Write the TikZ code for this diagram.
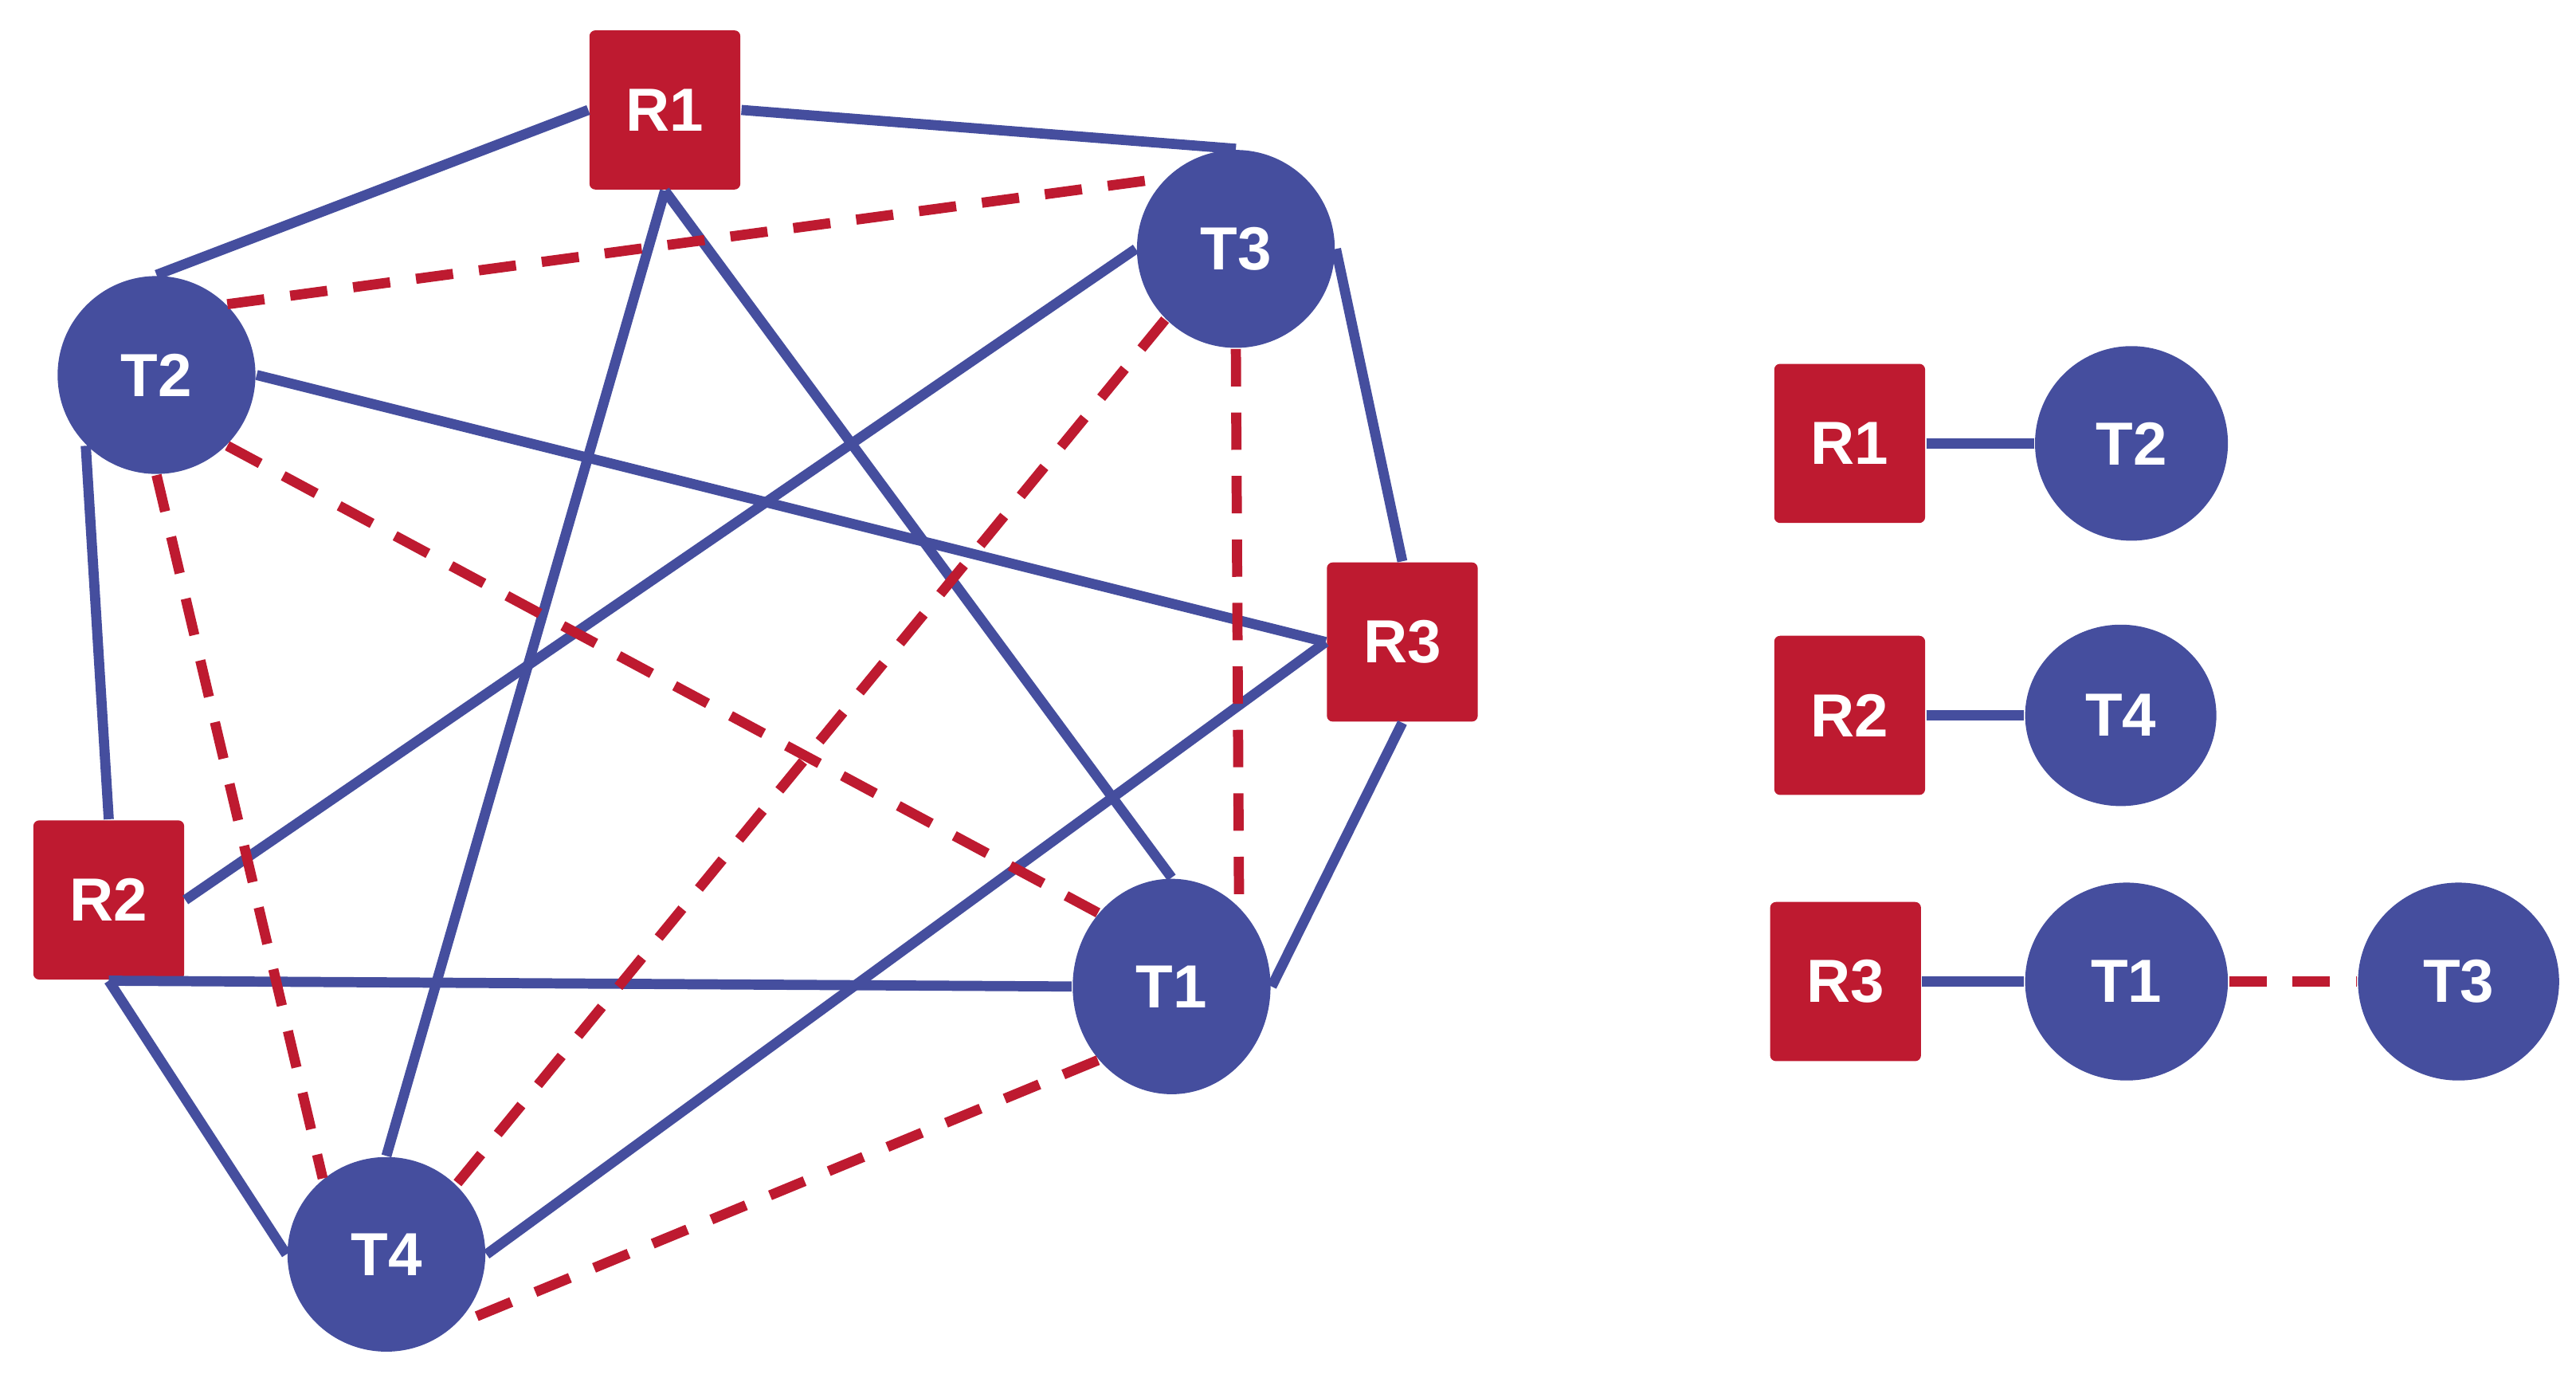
\documentclass[tikz,border=0pt]{standalone}
\usepackage{fontspec}
\setmainfont{Liberation Sans}
\usepackage{tikz}
\usetikzlibrary{shapes.geometric}
\definecolor{rred}{RGB}{190,26,48}
\definecolor{tblue}{RGB}{69,78,158}

\begin{document}
\begin{tikzpicture}[x = .01cm, y = -.01cm,
    rnode/.style = {rectangle, fill=rred, rounded corners=1pt, inner sep=0pt,
      minimum width=.915cm, minimum height=.965cm, text=white,
      font=\fontsize{10.5}{12}\selectfont\bfseries},
    tnode/.style = {ellipse, fill=tblue, inner sep=0pt,
      minimum width=1.2cm, minimum height=1.2cm, text=white,
      font=\fontsize{10.5}{12}\selectfont\bfseries},
    blueline/.style = {tblue, line width=1.75pt},
    redline/.style = {rred, line width=1.75pt, dash pattern=on 6.45pt off 4.5pt}]
        \useasboundingbox (0,0) rectangle (1563.3,835.6);
        % all links
        \node[rnode] (R1) at (403.5,66.7) {R1};
        \node[tnode] (T3) at (750,151) {T3};
        \node[tnode] (T2) at (95,227.5) {T2};
        \node[rnode] (R3) at (851,389.5) {R3};
        \node[rnode] (R2) at (66,546) {R2};
        \node[tnode, minimum height=1.306cm] (T1) at (711,598.5) {T1};
        \node[tnode, minimum height=1.18cm] (T4) at (234.5,761) {T4};
        \draw[blueline] (R1.west) -- (T2.north);
        \draw[blueline] (R1.east) -- (T3.north);
        \draw[blueline] (R1.south) -- (T4.north);
        \draw[blueline] (R1.south) -- (T1.north);
        \draw[blueline] (T2.east) -- (R3.west);
        \draw[blueline] (T2.225) -- (R2.north);
        \draw[blueline] (T3.west) -- (R2.east);
        \draw[blueline] (T3.east) -- (R3.north);
        \draw[blueline] (R3.west) -- (T4.east);
        \draw[blueline] (R3.south) -- (T1.east);
        \draw[blueline] (R2.south) -- (T1.west);
        \draw[blueline] (R2.south) -- (T4.west);
        \draw[redline] (T2.45) -- (T3.135);
        \draw[redline] (T2.south) -- (T4.130);
        \draw[redline] (T2.-45) -- (T1.135);
        \draw[redline] (T3.225) -- (T4.45);
        \draw[redline] (T3.south) -- (T1.50);
        \draw[redline] (T1.225) -- (T4.-45);
        % chosen links
        \node[rnode] (R1r) at (1122.5,269) {R1};
        \node[tnode, minimum width=1.17cm, minimum height=1.18cm] (T2r) at (1293.5,269) {T2};
        \node[rnode] (R2r) at (1122.5,434) {R2};
        \node[tnode, minimum width=1.16cm, minimum height=1.1cm] (T4r) at (1287,434) {T4};
        \node[rnode] (R3r) at (1120,595.5) {R3};
        \node[tnode, minimum width=1.23cm] (T1r) at (1290.5,595.5) {T1};
        \node[tnode, minimum width=1.22cm] (T3r) at (1492,595.5) {T3};
        \draw[blueline] (R1r.east) -- (T2r.west);
        \draw[blueline] (R2r.east) -- (T4r.west);
        \draw[blueline] (R3r.east) -- (T1r.west);
        \draw[redline] (T1r.east) -- (T3r.west);
\end{tikzpicture}
\end{document}
